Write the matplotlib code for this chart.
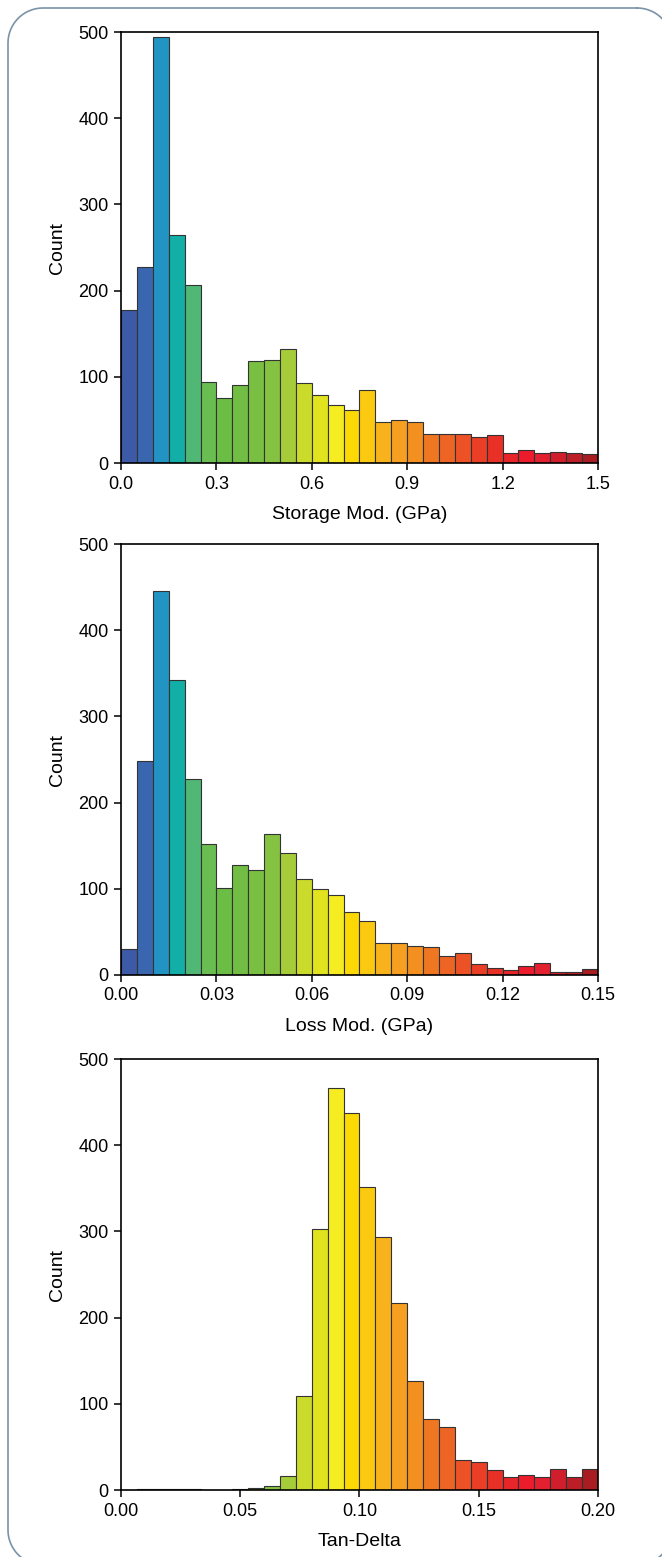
import numpy as np
import matplotlib
matplotlib.use("Agg")
import matplotlib.pyplot as plt

plt.rcParams['font.family'] = ['Liberation Sans', 'DejaVu Sans']

# bin colours (same colour per bin index in every panel)
bin_colors = ['#3c5aa8', '#3a66b0', '#2194c4', '#12afa6', '#50b874', '#6abd50',
              '#6bbd45', '#72be44', '#78bf42', '#86c241', '#a6cc3a', '#cbdb2c',
              '#e1e31f', '#f5ec22', '#fcd804', '#fbca10', '#f8b21c', '#f69f20',
              '#f49020', '#f07722', '#ee6424', '#ec5226', '#ea3e26', '#e83026',
              '#e8262a', '#ec1c2c', '#e22030', '#d01e2c', '#bc1e28', '#a81c22']

# storage modulus histogram, 30 bins over 0-1.5 GPa
storage_counts = [177, 227, 494, 265, 206, 94, 76, 90, 118, 119, 132, 93, 79, 67, 62,
                  85, 48, 50, 48, 34, 34, 34, 30, 32, 12, 15, 12, 13, 12, 10]
# loss modulus histogram, 30 bins over 0-0.15 GPa
loss_counts = [30, 248, 445, 342, 227, 152, 101, 128, 122, 163, 141, 111, 100, 93, 73,
               63, 37, 37, 34, 33, 22, 25, 13, 8, 6, 11, 14, 3, 3, 7]
# tan delta histogram, 30 bins over 0-0.20
tan_counts = [0, 1, 1, 1, 1, 0, 0, 1, 2, 5, 16, 109, 303, 466, 437, 352, 294, 217,
              126, 83, 73, 35, 32, 23, 15, 17, 15, 25, 15, 25]

panels = [
    (storage_counts, 1.5, [0.0, 0.3, 0.6, 0.9, 1.2, 1.5], ['0.0', '0.3', '0.6', '0.9', '1.2', '1.5'], 'Storage Mod. (GPa)'),
    (loss_counts, 0.15, [0.0, 0.03, 0.06, 0.09, 0.12, 0.15], ['0.00', '0.03', '0.06', '0.09', '0.12', '0.15'], 'Loss Mod. (GPa)'),
    (tan_counts, 0.20, [0.0, 0.05, 0.10, 0.15, 0.20], ['0.00', '0.05', '0.10', '0.15', '0.20'], 'Tan-Delta'),
]

W, H = 662, 1557
fig = plt.figure(figsize=(W / 100, H / 100), dpi=100)

# rounded frame around the whole figure, built in pixel units (y down)
def rounded_rect(x0, y0, x1, y1, r):
    xs, ys = [], []
    corners = [(x1 - r, y0 + r, -90, 0), (x1 - r, y1 - r, 0, 90),
               (x0 + r, y1 - r, 90, 180), (x0 + r, y0 + r, 180, 270)]
    for cx, cy, a0, a1 in corners:
        t = np.radians(np.linspace(a0, a1, 20))
        xs.extend(cx + r * np.cos(t))
        ys.extend(cy + r * np.sin(t))
    xs.append(xs[0])
    ys.append(ys[0])
    return xs, ys

bg = fig.add_axes([0, 0, 1, 1])
bg.set_xlim(0, W)
bg.set_ylim(H, 0)
bg.axis('off')
fx, fy = rounded_rect(8, 8, 672, 1565, 35)
bg.plot(fx, fy, color='#7b93a8', linewidth=1.2, clip_on=False)

bottoms = [0.7026, 0.3738, 0.0430]
for (counts, xmax, ticks, ticklabels, xlabel), b in zip(panels, bottoms):
    ax = fig.add_axes([0.1828, b, 0.7205, 0.2768])
    n = len(counts)
    edges = np.linspace(0, xmax, n + 1)
    ax.bar(edges[:-1], counts, width=xmax / n, align='edge', color=bin_colors,
           edgecolor='#333333', linewidth=0.8)
    ax.set_xlim(0, xmax)
    ax.set_ylim(0, 500)
    ax.set_xticks(ticks)
    ax.set_xticklabels(ticklabels)
    ax.set_yticks([0, 100, 200, 300, 400, 500])
    ax.tick_params(direction='out', length=5, width=1.1, labelsize=13, pad=4)
    for s in ax.spines.values():
        s.set_linewidth(1.2)
    ax.set_ylabel('Count', fontsize=14, labelpad=9)
    ax.set_xlabel(xlabel, fontsize=14, labelpad=10)

fig.savefig('out.png', dpi=100)
